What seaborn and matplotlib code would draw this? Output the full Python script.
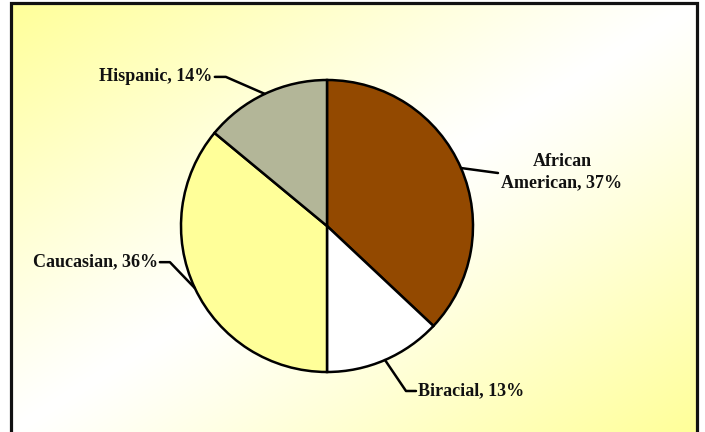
import numpy as np
import matplotlib
matplotlib.use("Agg")
import matplotlib.pyplot as plt
from matplotlib.colors import to_rgb
from matplotlib.patches import Rectangle
import seaborn as sns

# Student population by ethnicity (percent), clockwise from 12 o'clock
groups = ["African\nAmerican", "Biracial", "Caucasian", "Hispanic"]
shares = [37, 13, 36, 14]
slice_colors = ["#934900", "#FFFFFF", "#FFFF99", "#B3B698"]

sns.set_theme(style="white")
plt.rcParams["font.family"] = ["Liberation Serif", "DejaVu Serif"]

W, H = 705, 432
fig = plt.figure(figsize=(W / 100, H / 100), dpi=100)
fig.patch.set_facecolor("white")

# Chart area: diagonal yellow -> white -> yellow gradient inside a black frame
left, top, right = 11, 3, 697
bg = fig.add_axes([left / W, 0, (right - left) / W, (H - top) / H])
bg.set_axis_off()
nx, ny = 400, 250
xx, yy = np.meshgrid(np.linspace(0, 1, nx), np.linspace(0, 1, ny))
t = (xx + yy) / 2.0
w = np.abs(2 * t - 1) ** 1.1
yellow = np.array(to_rgb("#FFFF99"))
white = np.ones(3)
img = white[None, None, :] * (1 - w[..., None]) + yellow[None, None, :] * w[..., None]
bg.imshow(img, extent=[0, 1, 0, 1], aspect="auto", origin="upper")
bg.set_xlim(0, 1)
bg.set_ylim(0, 1)
fig.patches.append(Rectangle((left / W, -0.05), (right - left) / W, 1 - top / H + 0.05,
                             transform=fig.transFigure, fill=False,
                             edgecolor="#111111", linewidth=2.3, zorder=5))

# Pie
cx, cy, r = 327, 226, 146
ax = fig.add_axes([(cx - r) / W, (H - cy - r) / H, 2 * r / W, 2 * r / H])
wedges, _ = ax.pie(shares, colors=slice_colors, startangle=90, counterclock=False,
                   radius=1.0,
                   wedgeprops=dict(edgecolor="black", linewidth=1.8))
ax.set_xlim(-1, 1)
ax.set_ylim(-1, 1)
ax.set_aspect("auto")
ax.set_axis_off()

# Labels with elbow leader lines (pixel offsets from the wedge edge, y pointing down)
label_specs = {
    "African\nAmerican": dict(elbow=(37, 5), end=(37, 5), text=(101, 4), ha="center"),
    "Biracial": dict(elbow=(21, 31), end=(31, 31), text=(33, 31), ha="left"),
    "Caucasian": dict(elbow=(-25, -26), end=(-35, -26), text=(-37, -26), ha="right"),
    "Hispanic": dict(elbow=(-39, -17), end=(-50, -17), text=(-52, -17), ha="right"),
}

def to_fig(px, py):
    return px / W, 1 - py / H

cum = 0
for name, val in zip(groups, shares):
    mid = cum + val / 2
    cum += val
    ang = np.deg2rad(90 - 360 * mid / 100)
    ex, ey = cx + r * np.cos(ang), cy - r * np.sin(ang)
    s = label_specs[name]
    pts = [(ex, ey),
           (ex + s["elbow"][0], ey + s["elbow"][1]),
           (ex + s["end"][0], ey + s["end"][1])]
    fx, fy = zip(*[to_fig(*p) for p in pts])
    fig.lines.append(plt.Line2D(fx, fy, transform=fig.transFigure, color="black",
                                linewidth=1.8, zorder=6))
    tx, ty = to_fig(ex + s["text"][0], ey + s["text"][1])
    fig.text(tx, ty, f"{name}, {val}%", ha=s["ha"], va="center",
             fontsize=13, fontweight="bold", color="#111111",
             multialignment="center", linespacing=1.3, zorder=7)

fig.savefig("out.png", dpi=100)
